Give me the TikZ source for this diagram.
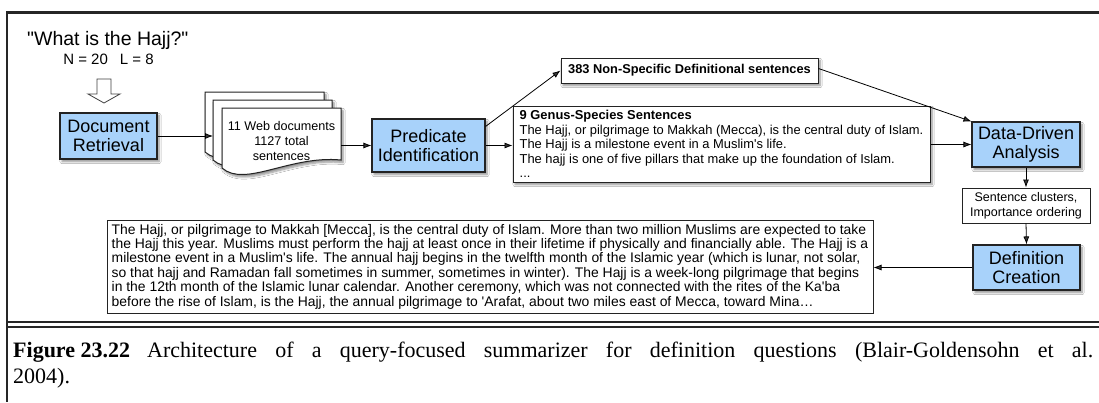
\documentclass[tikz,border=0pt]{standalone}
\usepackage{fontspec}
\setmainfont{Liberation Sans}
\newfontfamily\capfont{Liberation Serif}
\usetikzlibrary{arrows.meta,shadows.blur,calc}
\definecolor{boxblue}{RGB}{168,210,250}
\definecolor{edgec}{RGB}{35,35,35}
\newcommand{\ap}{\textquotesingle}
\tikzset{
  shad/.style={blur shadow={shadow xshift=2pt, shadow yshift=-2.5pt, shadow blur steps=6, shadow opacity=45}},
  bluebox/.style={draw=edgec, line width=1.1pt, fill=boxblue, align=center, inner sep=0pt,
    font=\fontsize{18}{19.5}\selectfont, shad},
  whitebox/.style={draw=edgec, line width=1pt, fill=white, inner sep=0pt, shad},
  plainbox/.style={draw=edgec, line width=1pt, fill=white, inner sep=0pt},
  pagestyle/.style={draw=edgec, line width=1pt, fill=white, shad},
  arr/.style={-{Latex[length=8pt,width=6pt]}, line width=0.8pt},
  lbl/.style={inner sep=0pt, align=center},
  rule/.style={line width=2pt, draw=black!85},
}
\begin{document}
\begin{tikzpicture}[x=1pt,y=-1pt]
\useasboundingbox (0,0) rectangle (1099,402);
\fill[white] (0,0) rectangle (1099,402);
% frame
\draw[rule, line width=2.6pt] (6,12.5) -- (1099,12.5);
\draw[rule] (7,11.5) -- (7,402);
\draw[rule] (7,322) -- (1099,322);
\draw[rule] (7,327) -- (1099,327);

% query
\node[lbl, anchor=base west, font=\fontsize{19.5}{22}\selectfont] (q) at (27,45) {\textquotedbl What is the Hajj?\textquotedbl};
\node[lbl, font=\fontsize{15}{17}\selectfont] (nl) at (108.5,59) {N = 20\hspace{12pt}L = 8};
\draw[draw=black!75, fill=white, line width=0.8pt] (97,79) -- (111,79) -- (111,94) -- (120,94) -- (104,103) -- (88,94) -- (97,94) -- cycle;

% document retrieval
\node[bluebox, minimum width=97pt, minimum height=46pt] (dr) at (108.5,136) {Document\\Retrieval};

% pages
\foreach \a/\b in {205/92, 213/100, 222/108} {
  \draw[pagestyle] (\a,\b) -- (\a+119,\b) -- (\a+119,\b+52)
     .. controls (\a+68,\b+47) and (\a+23,\b+80) .. (\a,\b+60) -- cycle;
}
\coordinate (pgmid) at (213,136);
\node[lbl, minimum width=119pt, font=\fontsize{12.6}{15}\selectfont] (docs) at (281.5,141) {11 Web documents\\1127 total\\sentences};

% predicate identification
\node[bluebox, minimum width=113pt, minimum height=53pt] (pred) at (428.5,145.5) {Predicate\\Identification};

% sentence sets
\node[whitebox, minimum width=257pt, minimum height=25pt, font=\bfseries\fontsize{12.8}{15}\selectfont] (ns) at (689.5,70.5) {383 Non-Specific Definitional sentences};
\node[whitebox, minimum width=417pt, minimum height=76pt, align=left, font=\fontsize{12.9}{14.5}\selectfont] (gs) at (721.5,144) {\textbf{9 Genus-Species Sentences}\\
The Hajj, or pilgrimage to Makkah (Mecca), is the central duty of Islam.\\
The Hajj is a milestone event in a Muslim\ap s life.\\
The hajj is one of five pillars that make up the foundation of Islam.\\
...\hspace*{0pt}};

% right column
\node[bluebox, minimum width=108pt, minimum height=45pt] (dd) at (1026,144.5) {Data-Driven\\Analysis};
\node[plainbox, minimum width=128pt, minimum height=35pt, align=center, font=\fontsize{12.5}{15}\selectfont] (sc) at (1026,205.5) {Sentence clusters,\\Importance ordering};
\node[bluebox, minimum width=107pt, minimum height=45pt] (dc) at (1026.5,267.5) {Definition\\Creation};

% long definition
\node[plainbox, minimum width=766pt, minimum height=93pt, align=left, font=\fontsize{13.9}{14.4}\selectfont] (lt) at (490,266.5) {The Hajj, or pilgrimage to Makkah [Mecca], is the central duty of Islam. More than two million Muslims are expected to take\\
the Hajj this year. Muslims must perform the hajj at least once in their lifetime if physically and financially able. The Hajj is a\\
milestone event in a Muslim\ap s life. The annual hajj begins in the twelfth month of the Islamic year (which is lunar, not solar,\\
so that hajj and Ramadan fall sometimes in summer, sometimes in winter). The Hajj is a week-long pilgrimage that begins\\
in the 12th month of the Islamic lunar calendar. Another ceremony, which was not connected with the rites of the Ka\ap ba\\
before the rise of Islam, is the Hajj, the annual pilgrimage to \ap Arafat, about two miles east of Mecca, toward Mina\ldots};

% connectors
\draw[arr] (dr.east) -- (dr.east -| pgmid);
\draw[arr] (pred.west -| docs.east) -- (pred.west);
\draw[arr] ($(pred.north east)+(0,8)$) -- (ns.west);
\draw[arr] (pred.east) -- (pred.east -| gs.west);
\draw[arr] ($(ns.east)+(0,-2)$) -- (dd.north west);
\draw[arr] (dd.west -| gs.east) -- (dd.west);
\draw[arr] (dd.south) -- (sc.north);
\draw[arr] (sc.south) -- (dc.north);
\draw[arr] (dc.west) -- (dc.west -| lt.east);

% caption
\node[anchor=base west, inner sep=0pt, font=\capfont\fontsize{22}{25}\selectfont] (cap1) at (13,357) {\makebox[1080pt][s]{\textbf{Figure\hspace{5.5pt}23.22}\hspace{17pt}Architecture of a query-focused summarizer for definition questions (Blair-Goldensohn et al.}};
\node[anchor=base west, inner sep=0pt, font=\capfont\fontsize{22}{25}\selectfont] (cap2) at (13,383) {2004).};
\end{tikzpicture}
\end{document}
